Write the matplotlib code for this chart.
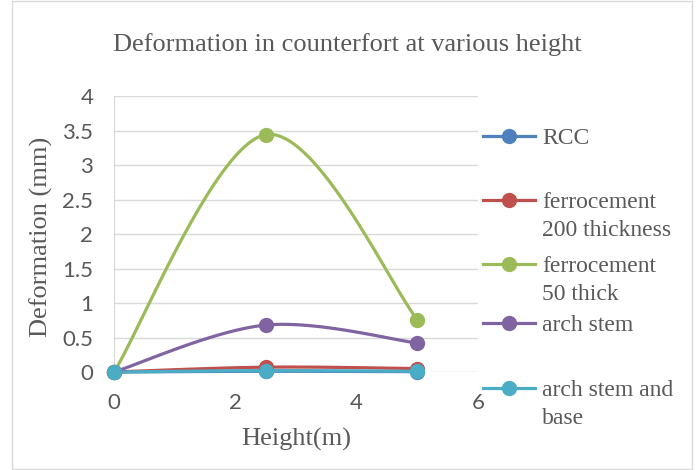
import numpy as np
import matplotlib.pyplot as plt
from matplotlib.lines import Line2D

# Deformation (mm) at each height (m)
heights = [0, 2.5, 5]
rcc = [0, 0.01, 0.005]
ferro_200 = [0, 0.07, 0.05]
ferro_50 = [0, 3.44, 0.76]
arch_stem = [0, 0.68, 0.42]
arch_stem_base = [0, 0.02, 0.01]

labels = ["RCC", "ferrocement\n200 thickness", "ferrocement\n50 thick",
          "arch stem", "arch stem and\nbase"]
colors = ["#4F81BD", "#C0504D", "#9BBB59", "#8064A2", "#4BACC6"]
series = [rcc, ferro_200, ferro_50, arch_stem, arch_stem_base]


def smooth(xs, ys, n=60):
    # bezier smoothing between points, similar to office "smoothed line"
    p = np.column_stack([xs, ys]).astype(float)
    out = []
    for i in range(len(p) - 1):
        p0 = p[i - 1] if i > 0 else p[i]
        p3 = p[i + 2] if i + 2 < len(p) else p[i + 1]
        c1 = p[i] + (p[i + 1] - p0) / 6
        c2 = p[i + 1] - (p3 - p[i]) / 6
        t = np.linspace(0, 1, n)[:, None]
        seg = ((1 - t) ** 3 * p[i] + 3 * (1 - t) ** 2 * t * c1
               + 3 * (1 - t) * t ** 2 * c2 + t ** 3 * p[i + 1])
        out.append(seg if i == 0 else seg[1:])
    out = np.vstack(out)
    return out[:, 0], out[:, 1]


serif = "Liberation Serif"
sans = "Lato"
grey = "#595959"

fig = plt.figure(figsize=(6.96, 4.7), dpi=100)
fig.patch.set_facecolor("white")
ax = fig.add_axes([0.1638, 0.2085, 0.523, 0.5872])

for ys, c in zip(series, colors):
    sx, sy = smooth(heights, ys)
    ax.plot(sx, sy, color=c, lw=2.3, solid_capstyle="round", zorder=3, clip_on=False)
    ax.plot(heights, ys, "o", color=c, ms=10, zorder=4, clip_on=False)

ax.set_xlim(0, 6)
ax.set_ylim(0, 4)
ax.set_xticks([0, 2, 4, 6])
ax.set_yticks(np.arange(0, 4.01, 0.5))
ax.set_yticklabels(["0", "0.5", "1", "1.5", "2", "2.5", "3", "3.5", "4"])
ax.grid(axis="y", color="#D9D9D9", lw=1)
ax.set_axisbelow(True)
for s in ["top", "right", "bottom"]:
    ax.spines[s].set_visible(False)
ax.spines["left"].set_color("#D9D9D9")
ax.tick_params(axis="x", length=0, labelsize=16, labelcolor=grey, pad=15)
ax.tick_params(axis="y", length=0, labelsize=16, labelcolor=grey, pad=15)
for lab in ax.get_xticklabels() + ax.get_yticklabels():
    lab.set_fontfamily(sans)

fig.text(0.499, 0.906, "Deformation in counterfort at various height",
         fontfamily=serif, fontsize=19, color=grey, ha="center", va="center")
fig.text(0.425, 0.064, "Height(m)", fontfamily=serif, fontsize=19, color=grey,
         ha="center", va="center")
fig.text(0.059, 0.496, "Deformation (mm)", fontfamily=serif, fontsize=19,
         color=grey, ha="center", va="center", rotation=90)

# legend drawn by hand so the key sits on the first text line
leg_y = [0.7106, 0.5745, 0.4383, 0.3128, 0.1745]
line_step = 0.0596
for y, c, lab in zip(leg_y, colors, labels):
    fig.add_artist(Line2D([0.694, 0.7687], [y, y], color=c, lw=2.3,
                          transform=fig.transFigure))
    fig.add_artist(Line2D([0.731], [y], marker="o", ms=10, color=c,
                          transform=fig.transFigure))
    for k, part in enumerate(lab.split("\n")):
        fig.text(0.779, y - k * line_step, part, fontfamily=serif, fontsize=17,
                 color=grey, va="center_baseline", ha="left")

# chart border
fig.add_artist(plt.Rectangle((0.017, 0.003), 0.977, 0.994, fill=False,
                             ec="#D9D9D9", lw=1, transform=fig.transFigure))

fig.savefig("out.png", dpi=100)
